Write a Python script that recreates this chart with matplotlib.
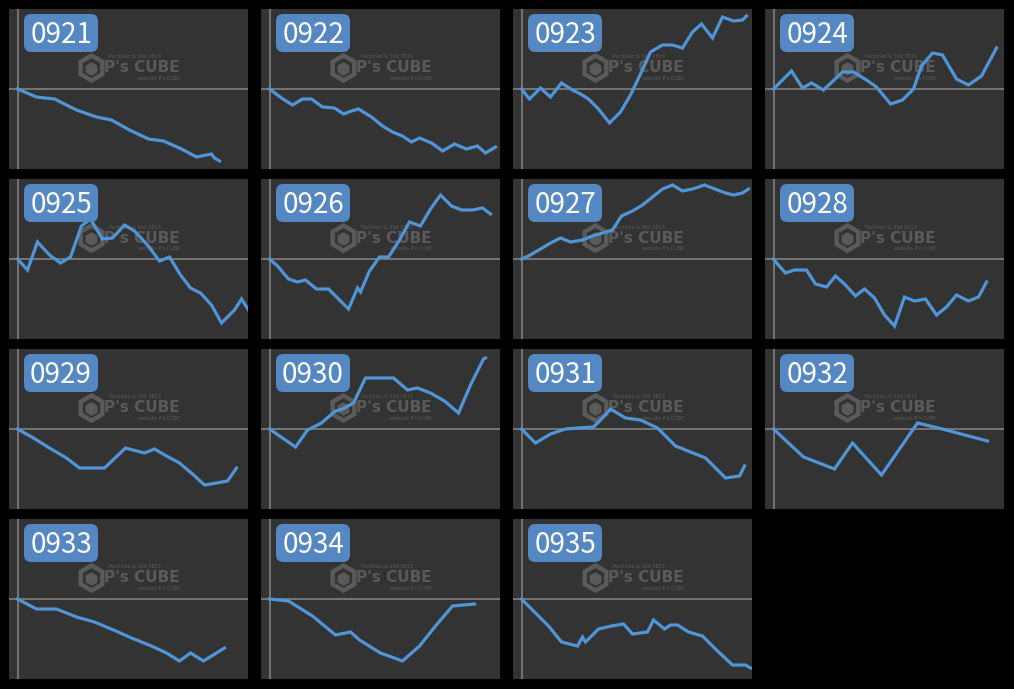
import matplotlib
matplotlib.use("Agg")
import matplotlib.pyplot as plt
from matplotlib.patches import FancyBboxPatch, Polygon
import numpy as np

# series: x = elapsed steps, y = balance
x_0921 = [0, 19, 37, 59, 79, 94, 112, 131, 146, 164, 179, 194, 197, 202]
y_0921 = [0, -0.8, -1.0, -2.1, -2.8, -3.1, -4.1, -5.0, -5.2, -6.0, -6.8, -6.5, -6.9, -7.2]

x_0922 = [0, 12, 23, 33, 42, 53, 65, 74, 82, 89, 102, 113, 123, 133, 142, 150, 162, 173, 185, 197, 208, 216, 226]
y_0922 = [0, -0.9, -1.6, -1.0, -1.0, -1.8, -1.9, -2.5, -2.2, -2.0, -2.8, -3.7, -4.3, -4.7, -5.3, -4.9, -5.4, -6.2, -5.5, -6.0, -5.7, -6.4, -5.8]

x_0923 = [0, 8, 19, 29, 40, 51, 59, 67, 77, 88, 99, 109, 119, 129, 141, 151, 161, 171, 180, 191, 201, 212, 221, 225]
y_0923 = [0, -1.0, 0.1, -0.8, 0.6, -0.1, -0.5, -1.0, -2.0, -3.4, -2.3, -0.6, 1.5, 3.7, 4.4, 4.4, 4.1, 5.7, 6.5, 5.1, 7.2, 6.8, 6.9, 7.3]

x_0924 = [0, 18, 29, 38, 50, 69, 80, 93, 103, 117, 129, 140, 148, 159, 169, 183, 195, 208, 223]
y_0924 = [0, 1.8, 0.1, 0.6, -0.1, 1.7, 1.7, 0.9, 0.2, -1.5, -1.1, 0, 2.3, 3.6, 3.4, 1.0, 0.4, 1.3, 4.1]

x_0925 = [0, 10, 20, 32, 43, 53, 64, 73, 85, 95, 107, 117, 130, 142, 152, 163, 173, 183, 194, 204, 217, 224, 231]
y_0925 = [0, -1.1, 1.7, 0.4, -0.4, 0.2, 3.3, 4.0, 2.0, 2.1, 3.4, 2.8, 1.4, -0.2, 0.2, -1.6, -2.9, -3.4, -4.6, -6.4, -5.1, -4.0, -5.1]

x_0926 = [0, 8, 19, 28, 36, 47, 59, 70, 79, 88, 91, 100, 110, 119, 130, 140, 151, 161, 171, 182, 192, 203, 213, 221]
y_0926 = [0, -0.7, -2.0, -2.3, -2.1, -3.0, -3.0, -4.1, -5.0, -2.9, -3.3, -1.2, 0.2, 0.2, 1.9, 3.7, 3.3, 5.0, 6.4, 5.3, 4.9, 4.9, 5.1, 4.5]

x_0927 = [0, 7, 19, 29, 39, 49, 61, 71, 81, 91, 100, 111, 121, 131, 141, 151, 161, 171, 183, 196, 204, 212, 221, 227]
y_0927 = [0, 0.3, 1.0, 1.6, 2.1, 1.7, 1.9, 2.3, 2.6, 2.9, 4.3, 4.8, 5.4, 6.2, 7.0, 7.4, 6.8, 7.0, 7.4, 6.9, 6.6, 6.4, 6.6, 7.0]

x_0928 = [0, 4, 12, 21, 33, 42, 53, 62, 71, 82, 91, 101, 111, 121, 131, 141, 152, 163, 173, 183, 195, 205, 213]
y_0928 = [0, -0.5, -1.4, -1.1, -1.1, -2.5, -2.8, -1.7, -2.5, -3.7, -3.0, -3.9, -5.6, -6.7, -3.8, -4.2, -4.0, -5.6, -4.8, -3.6, -4.2, -3.8, -2.3]

x_0929 = [0, 16, 32, 49, 62, 87, 108, 127, 137, 149, 162, 175, 187, 199, 210, 219]
y_0929 = [0, -0.9, -1.9, -2.9, -3.9, -3.9, -1.9, -2.4, -2.0, -2.7, -3.4, -4.5, -5.6, -5.4, -5.2, -3.9]

x_0930 = [0, 13, 26, 38, 52, 66, 73, 84, 96, 111, 124, 138, 148, 161, 175, 189, 201, 214, 216]
y_0930 = [0, -0.9, -1.8, -0.1, 0.6, 1.8, 2.0, 2.6, 5.1, 5.1, 5.1, 3.9, 4.1, 3.6, 2.8, 1.6, 4.4, 7.0, 7.1]

x_0931 = [0, 14, 29, 44, 57, 72, 81, 89, 104, 119, 136, 154, 169, 184, 194, 204, 218, 223]
y_0931 = [0, -1.4, -0.5, 0, 0.1, 0.2, 1.1, 2.0, 1.1, 0.9, 0.1, -1.7, -2.3, -2.9, -3.9, -4.9, -4.7, -3.7]

x_0932 = [0, 30, 61, 79, 108, 144, 165, 214]
y_0932 = [0, -2.8, -4.0, -1.4, -4.6, 0.6, 0.1, -1.2]

x_0933 = [0, 19, 39, 59, 77, 96, 114, 134, 149, 162, 173, 186, 207]
y_0933 = [0, -1.0, -1.0, -1.8, -2.3, -3.1, -3.9, -4.7, -5.4, -6.2, -5.4, -6.2, -4.9]

x_0934 = [0, 19, 43, 66, 81, 90, 111, 133, 150, 166, 183, 205]
y_0934 = [0, -0.2, -1.7, -3.6, -3.3, -4.1, -5.4, -6.2, -4.7, -2.7, -0.7, -0.5]

x_0935 = [0, 13, 27, 40, 56, 61, 64, 77, 90, 102, 111, 126, 132, 143, 149, 156, 167, 181, 196, 211, 224, 229]
y_0935 = [0, -1.3, -2.7, -4.3, -4.7, -3.8, -4.3, -3.0, -2.7, -2.5, -3.5, -3.3, -2.1, -3.0, -2.6, -2.6, -3.3, -3.7, -5.2, -6.6, -6.6, -6.9]

labels = ["0921", "0922", "0923", "0924", "0925", "0926", "0927", "0928",
          "0929", "0930", "0931", "0932", "0933", "0934", "0935"]
series = [(x_0921, y_0921), (x_0922, y_0922), (x_0923, y_0923), (x_0924, y_0924),
          (x_0925, y_0925), (x_0926, y_0926), (x_0927, y_0927), (x_0928, y_0928),
          (x_0929, y_0929), (x_0930, y_0930), (x_0931, y_0931), (x_0932, y_0932),
          (x_0933, y_0933), (x_0934, y_0934), (x_0935, y_0935)]

W, H = 1014, 689
PW, PH = 239, 160
fig = plt.figure(figsize=(W / 100, H / 100), dpi=100, facecolor="black")

line_col = "#4f95d8"
ref_col = "#7a7a7a"
wm_col = "#5a5a5a"


def hexagon(cx, cy, r):
    # pixel coords inside panel -> axes fraction
    ang = np.deg2rad(np.arange(6) * 60 + 30)
    px = cx + r * np.cos(ang)
    py = cy + r * np.sin(ang)
    return np.c_[px / PW, 1 - py / PH]


for i, (lab, (xs, ys)) in enumerate(zip(labels, series)):
    row, col = divmod(i, 4)
    left = 9 + col * 252
    top = 9 + row * 170
    ax = fig.add_axes([left / W, 1 - (top + PH) / H, PW / W, PH / H])
    ax.set_facecolor("#333333")
    ax.set_xlim(-8.5, 230.5)
    ax.set_ylim(-8, 8)
    for s in ax.spines.values():
        s.set_visible(False)
    ax.set_xticks([])
    ax.set_yticks([])

    ax.axhline(0, color=ref_col, lw=1.3, zorder=1)
    ax.axvline(0, color=ref_col, lw=1.3, zorder=1)

    # watermark
    ax.add_patch(Polygon(hexagon(82.5, 59, 12.5), closed=True, fill=False,
                         ec=wm_col, lw=3.2, transform=ax.transAxes, zorder=1))
    ax.add_patch(Polygon(hexagon(82.5, 60, 6), closed=True, fill=True,
                         fc=wm_col, ec=wm_col, transform=ax.transAxes, zorder=1))
    ax.text(95 / PW, 1 - 59 / PH, "P's CUBE", transform=ax.transAxes,
            color=wm_col, fontsize=11, fontweight="bold", family="DejaVu Sans",
            ha="left", va="center", zorder=1)
    ax.text(100 / PW, 1 - 48 / PH, "Pachinko & Slot 0813", transform=ax.transAxes,
            color=wm_col, fontsize=3.5, ha="left", va="center", zorder=1)
    ax.text(129 / PW, 1 - 69 / PH, "website P's CUBE", transform=ax.transAxes,
            color=wm_col, fontsize=3.5, ha="left", va="center", zorder=1)

    ax.plot(xs, ys, color=line_col, lw=2.3, solid_joinstyle="miter", zorder=3)

    # label badge
    ax.add_patch(FancyBboxPatch((15 / PW, 1 - 43 / PH), 74 / PW, 38 / PH,
                                boxstyle="round,pad=0,rounding_size=0.03",
                                fc="#5587c3", ec="none", transform=ax.transAxes,
                                mutation_aspect=PW / PH, zorder=4))
    ax.text(52 / PW, 1 - 26 / PH, lab, transform=ax.transAxes, color="white",
            fontsize=20, family=["Noto Sans CJK JP", "DejaVu Sans"],
            ha="center", va="center", zorder=5)

fig.savefig("out.png", dpi=100, facecolor="black")
